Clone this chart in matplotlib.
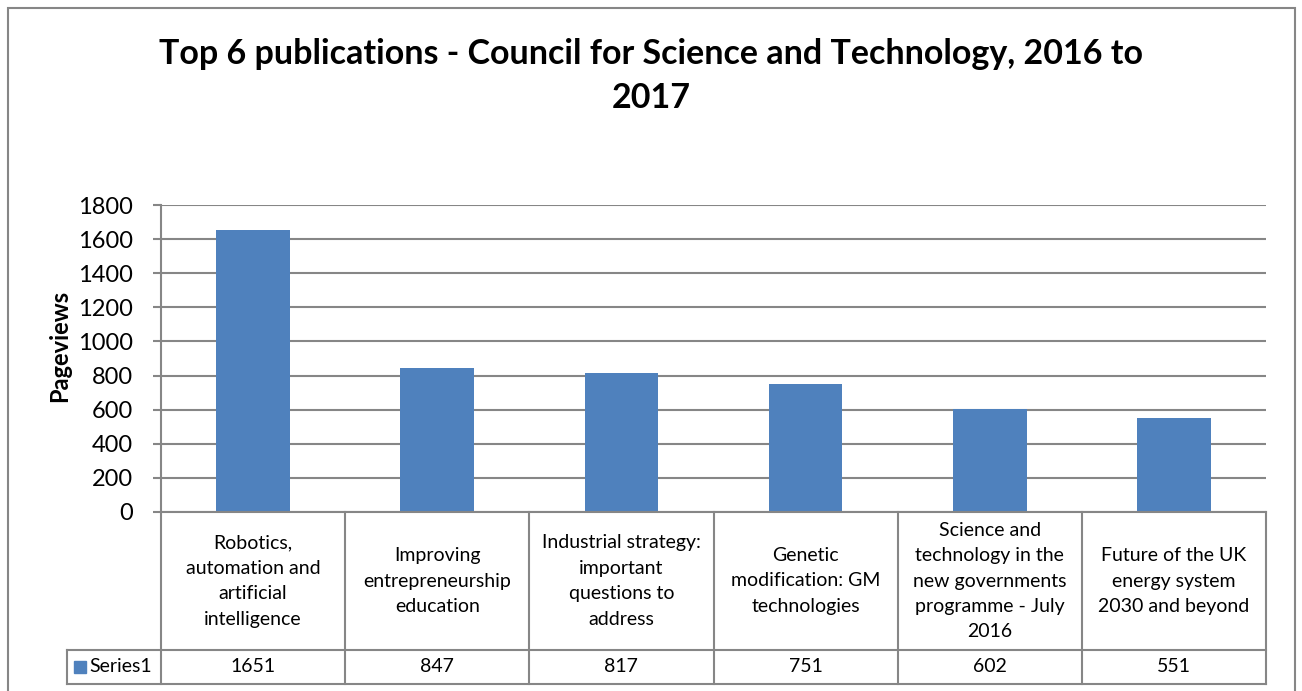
import matplotlib.pyplot as plt
from matplotlib.patches import Rectangle

plt.rcParams["font.family"] = ["Lato", "DejaVu Sans"]

publications = [
    "Robotics,\nautomation and\nartificial\nintelligence",
    "Improving\nentrepreneurship\neducation",
    "Industrial strategy:\nimportant\nquestions to\naddress",
    "Genetic\nmodification: GM\ntechnologies",
    "Science and\ntechnology in the\nnew governments\nprogramme - July\n2016",
    "Future of the UK\nenergy system\n2030 and beyond",
]
pageviews = [1651, 847, 817, 751, 602, 551]
series_name = "Series1"
yticks = [0, 200, 400, 600, 800, 1000, 1200, 1400, 1600, 1800]

W, H = 1302, 691
fig = plt.figure(figsize=(W / 100, H / 100), dpi=100)

def fx(px):
    return px / W

def fy(py):
    return 1 - py / H

# chart border
fig.add_artist(Rectangle((fx(8), fy(700)), fx(1295) - fx(8), fy(8) - fy(700),
                         transform=fig.transFigure, fill=False, edgecolor="#868686", lw=1.5))

left, right, top, bottom = 161, 1266, 205, 512
ax = fig.add_axes([fx(left), fy(bottom), fx(right) - fx(left), fy(top) - fy(bottom)])

n = len(pageviews)
x = list(range(n))
ax.bar(x, pageviews, width=0.4, color="#4f81bd", zorder=3)
ax.set_xlim(-0.5, n - 0.5)
ax.set_ylim(0, 1800)
ax.set_yticks(yticks)
ax.set_yticklabels([str(t) for t in yticks], fontsize=17)
ax.set_xticks([])
ax.grid(axis="y", color="#868686", lw=1.5, zorder=0)
for s in ["top", "right", "bottom"]:
    ax.spines[s].set_visible(False)
ax.spines["left"].set_color("#868686")
ax.spines["left"].set_linewidth(1.5)
ax.tick_params(axis="y", length=6, width=1.5, color="#868686", pad=14)
ax.set_ylabel("Pageviews", fontsize=17, fontweight="bold")
ax.yaxis.set_label_coords(fx(60), 0.5, transform=fig.transFigure)
ax.yaxis.label.set_va("center")

fig.text(0.5, fy(76), "Top 6 publications - Council for Science and Technology, 2016 to\n2017",
         ha="center", va="center", fontsize=24.5, fontweight="bold", linespacing=1.45)

# data table below the axis
line_kw = dict(color="#868686", lw=1.5, transform=fig.transFigure)
col_w = (right - left) / n
row1, row2 = 650, 684
fig.add_artist(plt.Line2D([fx(left), fx(right)], [fy(bottom), fy(bottom)], **line_kw))
fig.add_artist(plt.Line2D([fx(67), fx(right)], [fy(row1), fy(row1)], **line_kw))
fig.add_artist(plt.Line2D([fx(67), fx(right)], [fy(row2), fy(row2)], **line_kw))
fig.add_artist(plt.Line2D([fx(67), fx(67)], [fy(row1), fy(row2)], **line_kw))
for i in range(n + 1):
    xp = left + i * col_w
    fig.add_artist(plt.Line2D([fx(xp), fx(xp)], [fy(bottom), fy(row2)], **line_kw))

for i, (name, val) in enumerate(zip(publications, pageviews)):
    cx = left + (i + 0.5) * col_w
    fig.text(fx(cx), fy((bottom + row1) / 2), name, ha="center", va="center",
             fontsize=14, linespacing=1.6)
    fig.text(fx(cx), fy((row1 + row2) / 2), str(val), ha="center", va="center", fontsize=14)

fig.add_artist(Rectangle((fx(74), fy(673)), fx(12), fy(661) - fy(673),
                         transform=fig.transFigure, color="#4f81bd"))
fig.text(fx(89), fy((row1 + row2) / 2), series_name, ha="left", va="center", fontsize=14)

fig.savefig("out.png", dpi=100)
